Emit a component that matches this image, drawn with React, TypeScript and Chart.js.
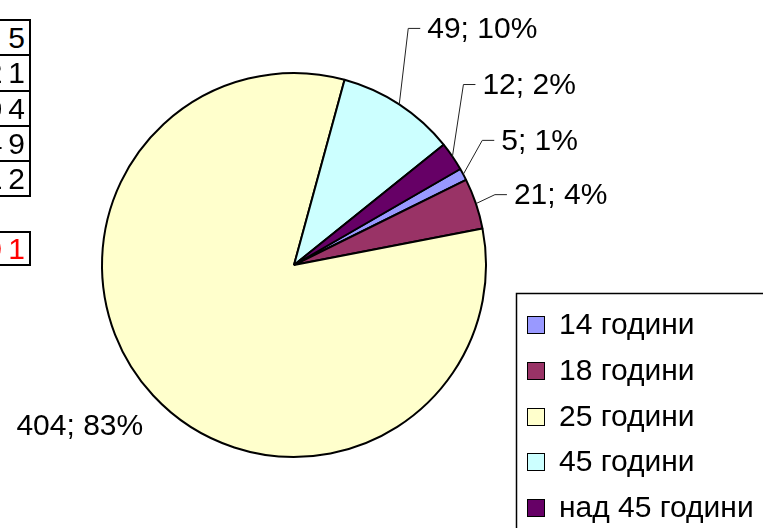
import React, { useEffect, useRef } from "react";
import { Chart, registerables } from "chart.js";

Chart.register(...registerables);

// ---- data ----
const categories = ["14 години", "18 години", "25 години", "45 години", "над 45 години"];
const counts = [5, 21, 404, 49, 12];
const percentLabels = ["1%", "4%", "83%", "10%", "2%"];
const sliceColors = ["#9999FF", "#993366", "#FFFFCC", "#CCFFFF", "#660066"];

// ---- layout / style (not data) ----
const FONT = '"Liberation Sans", Arial, Helvetica, sans-serif';
// elbow of each leader line, relative to the slice's outer mid-point
const labelLayout = [
  { dx: 19, dy: -34, line: true },
  { dx: 19, dy: -9, line: true },
  { dx: -10, dy: 31, line: false },
  { dx: 9, dy: -76, line: true },
  { dx: 11, dy: -72, line: true },
];

export default function App() {
  const canvasRef = useRef<HTMLCanvasElement>(null);

  useEffect(() => {
    const canvas = canvasRef.current;
    if (!canvas) return;

    const labelPlugin = {
      id: "excelLabels",
      afterDatasetsDraw(chart: any) {
        const ctx = chart.ctx as CanvasRenderingContext2D;
        const meta = chart.getDatasetMeta(0);
        ctx.save();
        ctx.font = `30px ${FONT}`;
        ctx.fillStyle = "#000";
        ctx.strokeStyle = "#222";
        ctx.lineWidth = 1;
        meta.data.forEach((arc: any, i: number) => {
          const p = arc.getProps(["x", "y", "startAngle", "endAngle", "outerRadius"], true);
          const mid = (p.startAngle + p.endAngle) / 2;
          const ex = p.x + Math.cos(mid) * p.outerRadius;
          const ey = p.y + Math.sin(mid) * p.outerRadius;
          const lay = labelLayout[i];
          const bx = ex + lay.dx;
          const by = ey + lay.dy;
          const text = `${counts[i]}; ${percentLabels[i]}`;
          ctx.textBaseline = "middle";
          if (lay.line) {
            ctx.beginPath();
            ctx.moveTo(ex, ey);
            ctx.lineTo(bx, by);
            ctx.lineTo(bx + 12, by);
            ctx.stroke();
            ctx.textAlign = "left";
            ctx.fillText(text, bx + 19, by + 1);
          } else {
            ctx.textAlign = "right";
            ctx.fillText(text, bx, by);
          }
        });
        ctx.restore();
      },
    };

    const legendPlugin = {
      id: "excelLegend",
      afterDraw(chart: any) {
        const ctx = chart.ctx as CanvasRenderingContext2D;
        const left = 516.5;
        const top = 293.5;
        ctx.save();
        ctx.fillStyle = "#fff";
        ctx.fillRect(left, top, 400, 400);
        ctx.strokeStyle = "#000";
        ctx.lineWidth = 1.5;
        ctx.strokeRect(left, top, 400, 400);
        ctx.font = `30px ${FONT}`;
        ctx.textBaseline = "middle";
        ctx.textAlign = "left";
        categories.forEach((c, i) => {
          const cy = Math.round(top + 31.5 + i * 45.75);
          ctx.fillStyle = sliceColors[i];
          ctx.fillRect(527, cy - 9, 18, 18);
          ctx.lineWidth = 1;
          ctx.strokeStyle = "#000";
          ctx.strokeRect(527.5, cy - 8.5, 17, 17);
          ctx.fillStyle = "#000";
          ctx.fillText(c, 559, cy + 1);
        });
        ctx.restore();
      },
    };

    const chart = new Chart(canvas, {
      type: "pie",
      data: {
        labels: categories,
        datasets: [
          {
            data: counts,
            backgroundColor: sliceColors,
            borderColor: "#000",
            borderWidth: 2,
            hoverOffset: 0,
          },
        ],
      },
      options: {
        responsive: false,
        animation: false,
        devicePixelRatio: 1,
        rotation: 60,
        radius: 192,
        events: [],
        layout: { padding: { left: 100, right: 275, top: 72, bottom: 70 } },
        plugins: {
          legend: { display: false },
          tooltip: { enabled: false },
          title: { display: false },
        },
      } as any,
      plugins: [labelPlugin, legendPlugin],
    });

    return () => chart.destroy();
  }, []);

  const total = counts.reduce((a, b) => a + b, 0);
  const rowH = 35.3;

  const cellStyle = (top: number, h: number, color: string): React.CSSProperties => ({
    position: "absolute",
    left: -70,
    top,
    width: 101,
    height: h,
    boxSizing: "border-box",
    border: "2px solid #000",
    textAlign: "right",
    paddingRight: 4,
    font: `30px ${FONT}`,
    lineHeight: `${h - 4}px`,
    color,
    background: "#fff",
    whiteSpace: "nowrap",
  });

  const cellText = (v: number) => (
    <span style={{ letterSpacing: 6, marginRight: -6 }}>{v}</span>
  );

  return (
    <div
      style={{
        position: "fixed",
        left: 0,
        top: 0,
        width: 763,
        height: 528,
        overflow: "hidden",
        background: "#fff",
      }}
    >
      <canvas ref={canvasRef} width={763} height={528} style={{ position: "absolute", left: 0, top: 0, width: 763, height: 528 }} />
      {counts.map((v, i) => (
        <div key={i} style={cellStyle(19 + i * rowH, rowH + 2, "#000")}>
          {cellText(v)}
        </div>
      ))}
      <div style={cellStyle(231, 35, "#FF0000")}>{cellText(total)}</div>
    </div>
  );
}
